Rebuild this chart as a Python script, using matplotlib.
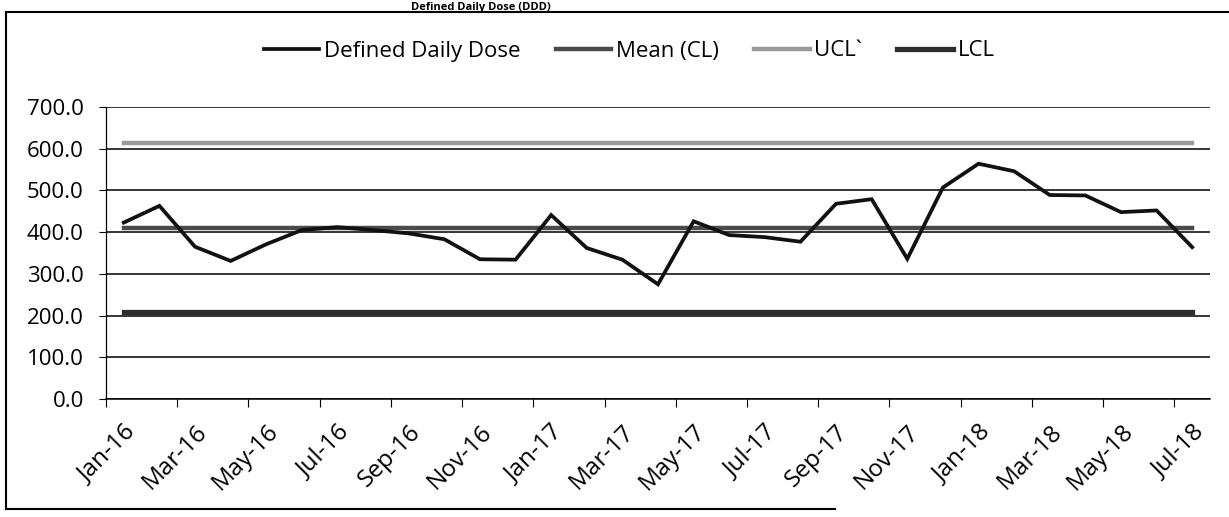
import matplotlib
matplotlib.use("Agg")
import matplotlib.pyplot as plt
from matplotlib.lines import Line2D
from matplotlib.ticker import FixedLocator, FuncFormatter

# data (monthly, Jan-16 .. Jul-18)
months = ["Jan-16", "Feb-16", "Mar-16", "Apr-16", "May-16", "Jun-16", "Jul-16", "Aug-16",
          "Sep-16", "Oct-16", "Nov-16", "Dec-16", "Jan-17", "Feb-17", "Mar-17", "Apr-17",
          "May-17", "Jun-17", "Jul-17", "Aug-17", "Sep-17", "Oct-17", "Nov-17", "Dec-17",
          "Jan-18", "Feb-18", "Mar-18", "Apr-18", "May-18", "Jun-18", "Jul-18"]
ddd = [423, 463, 365, 331, 371, 405, 412, 405, 397, 383, 335, 334, 441, 362, 334, 275,
       426, 393, 388, 377, 468, 479, 336, 507, 564, 546, 489, 488, 448, 452, 364]
mean_cl = 411
ucl = 614
lcl = 208
yticks = [0, 100, 200, 300, 400, 500, 600, 700]

W, H = 1229, 517
fig = plt.figure(figsize=(W / 100, H / 100), dpi=100)
plt.rcParams['font.family'] = ['Open Sans', 'DejaVu Sans']

ax = fig.add_axes([106 / W, 1 - 399 / H, (1210 - 106) / W, 292 / H])

x = list(range(len(months)))
l1, = ax.plot(x, ddd, color="#111111", lw=2.7, zorder=5, solid_joinstyle="miter")
l2, = ax.plot(x, [mean_cl] * len(x), color="#4a4a4a", lw=3.2, zorder=4)
l3, = ax.plot(x, [ucl] * len(x), color="#9a9a9a", lw=3.2, zorder=4)
l4, = ax.plot(x, [lcl] * len(x), color="#2e2e2e", lw=3.8, zorder=4)

ax.set_xlim(-0.5, len(months) - 0.5)
ax.set_ylim(0, 700)

# y axis
ax.set_yticks(yticks)
ax.yaxis.set_major_formatter(FuncFormatter(lambda v, p: "%.1f" % v))
ax.grid(axis="y", color="black", lw=1.1)
ax.set_axisbelow(True)
ax.tick_params("y", which="major", direction="out", length=5, width=0.8,
               pad=11, labelsize=16)

# x axis: labels every 2 months at category centres, ticks between categories
ax.xaxis.set_major_locator(FixedLocator(x[::2]))
ax.set_xticklabels(months[::2])
ax.xaxis.set_minor_locator(FixedLocator([i - 0.5 for i in x[::2]]))
ax.tick_params("x", which="major", length=0, pad=15, labelsize=17.5)
ax.tick_params("x", which="minor", direction="out", length=6, width=0.8)
for lab in ax.get_xticklabels():
    lab.set_rotation(45)
    lab.set_ha("right")
    lab.set_va("top")
    lab.set_rotation_mode("anchor")

for s in ["top", "right"]:
    ax.spines[s].set_visible(False)
ax.spines["left"].set_linewidth(0.9)
ax.spines["bottom"].set_linewidth(1.1)

fig.legend([l1, l2, l3, l4], ["Defined Daily Dose", "Mean (CL)", "UCL`", "LCL"],
           loc="center", bbox_to_anchor=(629 / W, 1 - 51 / H), ncol=4, frameon=False,
           fontsize=16, handlelength=2.5, handletextpad=0.2, columnspacing=1.6)

# title (only a sliver of it shows at the top of the scan)
fig.text(481 / W, 1 - 10 / H, "Defined Daily Dose (DDD)", ha="center", va="baseline",
         fontsize=8, fontweight="bold")

# outer chart frame
fig.add_artist(Line2D([6 / W, 6 / W], [1 - 509 / H, 1 - 12 / H], color="black", lw=1.5,
                      transform=fig.transFigure))
fig.add_artist(Line2D([6 / W, 1229 / W], [1 - 12 / H, 1 - 12 / H], color="black", lw=1.5,
                      transform=fig.transFigure))
fig.add_artist(Line2D([6 / W, 835 / W], [1 - 509 / H, 1 - 509 / H], color="black", lw=1.5,
                      transform=fig.transFigure))

fig.savefig("out.png", dpi=100)
